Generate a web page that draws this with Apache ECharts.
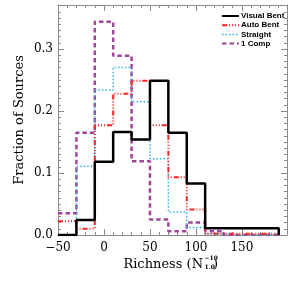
<!DOCTYPE html>
<html>
<head>
<meta charset="utf-8">
<script src="https://cdn.jsdelivr.net/npm/echarts@6/dist/echarts.min.js"></script>
<style>html,body{margin:0;padding:0;background:#fff}#c{width:294px;height:294px}</style>
</head>
<body>
<div id="c"></div>
<script>
// Bin edges (Richness) and fractions per bin
const binEdges = [-50, -30, -10, 10, 30, 50, 70, 90, 110, 130, 150, 170, 190];
const visualBent = [0.000, 0.024, 0.118, 0.166, 0.154, 0.249, 0.165, 0.083, 0.011, 0.011, 0.011, 0.011];
const autoBent   = [0.022, 0.010, 0.177, 0.228, 0.249, 0.177, 0.093, 0.041, 0.002, 0.002, 0.002, 0.002];
const straight   = [0.000, 0.111, 0.234, 0.270, 0.215, 0.123, 0.037, 0.012, 0.002, 0.000, 0.000, 0.000];
const oneComp    = [0.035, 0.165, 0.344, 0.289, 0.119, 0.025, 0.006, 0.020, 0.006, 0.000, 0.000, 0.000];
const seriesNames = ['Visual Bent', 'Auto Bent', 'Straight', '1 Comp'];
const xTicks = [-50, 0, 50, 100, 150];
const yTicks = [0.0, 0.1, 0.2, 0.3];

function stepData(vals) {
  const d = [];
  for (let i = 0; i < vals.length; i++) d.push([binEdges[i], vals[i]]);
  d.push([binEdges[binEdges.length - 1], vals[vals.length - 1]]);
  d.push([binEdges[binEdges.length - 1], 0]);
  return d;
}

const axisGray = '#8a8a8a';
const serif = 'DejaVu Serif';

function xAx(pos, show) {
  return {
    type: 'value', position: pos, min: -50, max: 199, interval: 50,
    axisLine: { show: true, onZero: false, lineStyle: { color: axisGray, width: 1 } },
    axisTick: { show: true, inside: true, length: 6, lineStyle: { color: axisGray } },
    minorTick: { show: true, splitNumber: 5, length: 3, lineStyle: { color: axisGray } },
    splitLine: { show: false },
    axisLabel: show ? {
      show: true, margin: 7, color: '#000', fontFamily: serif, fontSize: 12,
      formatter: v => (xTicks.indexOf(v) >= 0 ? String(v).replace('-', '\u2212') : '')
    } : { show: false }
  };
}
function yAx(pos, show) {
  return {
    type: 'value', position: pos, min: 0, max: 0.371, interval: 0.1,
    axisLine: { show: true, onZero: false, lineStyle: { color: axisGray, width: 1 } },
    axisTick: { show: true, inside: true, length: 6, lineStyle: { color: axisGray } },
    minorTick: { show: true, splitNumber: 10, length: 3, lineStyle: { color: axisGray } },
    splitLine: { show: false },
    axisLabel: show ? {
      show: true, margin: 5, color: '#000', fontFamily: serif, fontSize: 12,
      formatter: v => {
        const k = yTicks.findIndex(t => Math.abs(t - v) < 1e-9);
        return k >= 0 ? yTicks[k].toFixed(1) : '';
      }
    } : { show: false }
  };
}

const styles = [
  { color: '#000000', width: 2.5, type: 'solid' },
  { color: '#ff2020', width: 2, type: [5, 2, 1, 2, 1, 2, 1, 2] },
  { color: '#30b0ea', width: 1.5, type: [1.5, 2] },
  { color: '#a0449c', width: 2.5, type: [4.5, 3] }
];
const dataSets = [visualBent, autoBent, straight, oneComp];

const legendGraphics = [];
seriesNames.forEach((name, i) => {
  const y = 16 + 9.2 * i;
  const s = styles[i];
  legendGraphics.push({
    type: 'line', shape: { x1: 222, y1: y, x2: 239, y2: y },
    style: { stroke: s.color, lineWidth: Math.min(s.width, 2), lineDash: s.type === 'solid' ? null : s.type }
  });
  legendGraphics.push({
    type: 'text', x: 241, y: y,
    style: { text: name, fontFamily: 'Liberation Sans', fontWeight: 'bold', fontSize: 8, fill: '#000', align: 'left', verticalAlign: 'middle' }
  });
});

const chart = echarts.init(document.getElementById('c'), null, { renderer: 'canvas' });
chart.setOption({
  animation: false,
  grid: { left: 58, right: 7, top: 5, bottom: 59 },
  xAxis: [xAx('bottom', true), xAx('top', false)],
  yAxis: [yAx('left', true), yAx('right', false)],
  series: dataSets.map((vals, i) => ({
    name: seriesNames[i], type: 'line', step: 'end', showSymbol: false, symbol: 'none',
    data: stepData(vals), z: 10 - i,
    lineStyle: styles[i], itemStyle: { color: styles[i].color }
  })),
  graphic: legendGraphics.concat([
    { type: 'text', x: 20, y: 120, rotation: Math.PI / 2,
      style: { text: 'Fraction of Sources', fontFamily: serif, fontSize: 13, fill: '#000', align: 'center', verticalAlign: 'middle' } },
    { type: 'text', x: 203, y: 271.5,
      style: { text: 'Richness (N', fontFamily: serif, fontSize: 13, fill: '#000', align: 'right', verticalAlign: 'bottom' } },
    { type: 'text', x: 204.5, y: 261.5,
      style: { text: '\u221219', fontFamily: serif, fontSize: 6, fontWeight: 'bold', fill: '#000', align: 'left', verticalAlign: 'bottom' } },
    { type: 'text', x: 204.5, y: 270,
      style: { text: '1.0', fontFamily: serif, fontSize: 6, fontWeight: 'bold', fill: '#000', align: 'left', verticalAlign: 'bottom' } },
    { type: 'text', x: 213, y: 271.5,
      style: { text: ')', fontFamily: serif, fontSize: 13, fill: '#000', align: 'left', verticalAlign: 'bottom' } }
  ])
});
</script>
</body>
</html>
